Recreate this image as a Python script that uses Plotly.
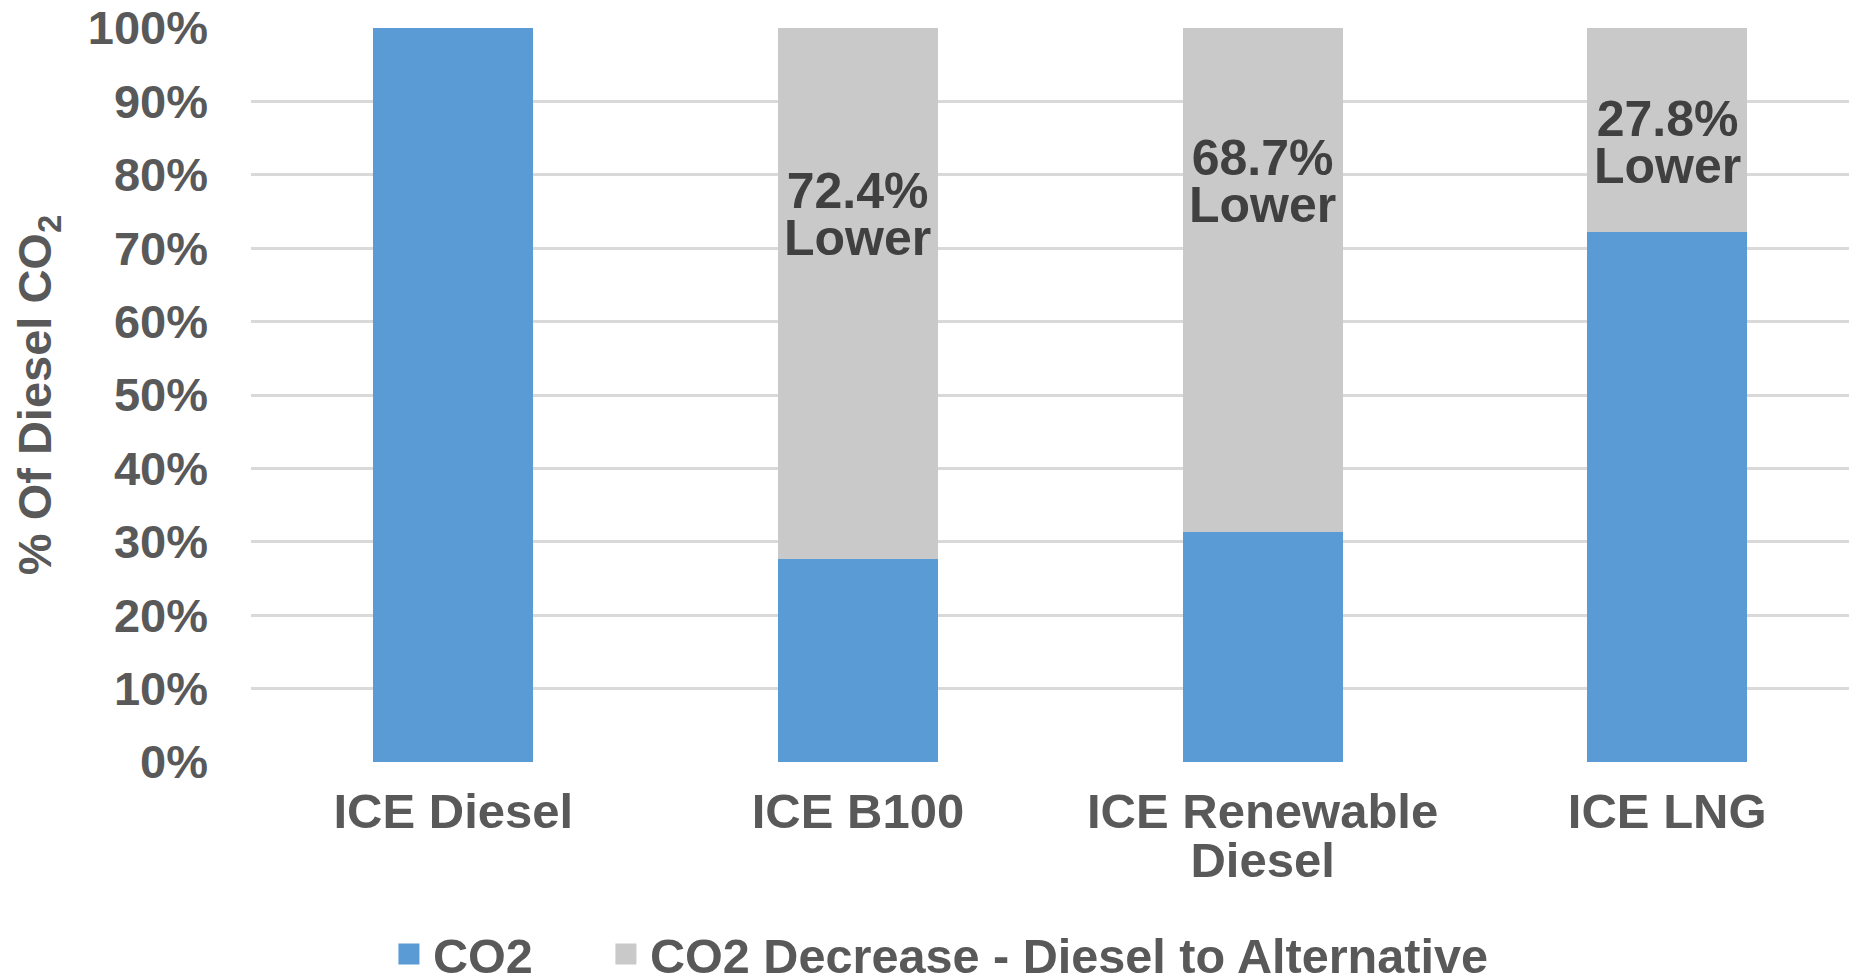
import plotly.graph_objects as go

# ---- data ----
categories = ["ICE Diesel", "ICE B100", "ICE Renewable\nDiesel", "ICE LNG"]
co2_share = [100.0, 27.6, 31.3, 72.2]          # % of diesel CO2
co2_decrease = [0.0, 72.4, 68.7, 27.8]          # % lower than diesel
series_names = ["CO2", "CO2 Decrease - Diesel to Alternative"]
y_ticks = [0, 10, 20, 30, 40, 50, 60, 70, 80, 90, 100]

# ---- styles / layout constants ----
BLUE = "#5B9BD5"
GRAY = "#C9C9C9"
GRID = "#D9D9D9"
TXT = "#595959"
LBL = "#404040"
FONT = "Liberation Sans, Arial, sans-serif"
# page body has an 8px default margin; size the figure to fill the window
W, H = 1849, 969
label_mid_pos = [None, 74.65, 79.1, 84.4]


def big_lines(text, px):
    """wrap each line in a span so glyphs are large while line spacing stays tight"""
    return "<br>".join(f"<span style='font-size:{px}px'>{ln}</span>" for ln in text.split("\n"))


fig = go.Figure()
fig.add_trace(go.Bar(x=categories, y=co2_share, name=series_names[0],
                     marker=dict(color=BLUE, line=dict(width=0)),
                     width=0.395, showlegend=False))
fig.add_trace(go.Bar(x=categories, y=co2_decrease, name=series_names[1],
                     marker=dict(color=GRAY, line=dict(width=0)),
                     width=0.395, showlegend=False))
# legend entries with larger square symbols, each in its own legend for spacing
for nm, col, lg in zip(series_names, [BLUE, GRAY], ["legend", "legend2"]):
    fig.add_trace(go.Scatter(x=[None], y=[None], mode="markers", name=nm, legend=lg,
                             marker=dict(symbol="square", size=16, color=col,
                                         line=dict(color=col, width=5))))

annotations = []
for cat, dec, ym in zip(categories, co2_decrease, label_mid_pos):
    if dec <= 0:
        continue
    annotations.append(dict(x=cat, y=ym, xref="x", yref="y",
                            text=big_lines(f"{dec:.1f}%\nLower", 50),
                            showarrow=False,
                            font=dict(family=FONT, size=36, color=LBL, weight="bold")))

legend_common = dict(orientation="h", xanchor="left", y=-0.262, yanchor="middle",
                     font=dict(family=FONT, size=48.6, color=TXT, weight="bold"),
                     itemwidth=38, bgcolor="rgba(0,0,0,0)")

fig.update_layout(
    width=W, height=H,
    barmode="stack",
    bargap=0.6,
    plot_bgcolor="white", paper_bgcolor="white",
    margin=dict(l=243, r=0, t=20, b=215, pad=0, autoexpand=False),
    font=dict(family=FONT, size=46, color=TXT, weight="bold"),
    legend=dict(x=0.0834, **legend_common),
    legend2=dict(x=0.2185, **legend_common),
    annotations=annotations,
    xaxis=dict(range=[-0.5, 3.469], showgrid=False, zeroline=False, showline=False,
               ticks="", ticklabelstandoff=27, automargin=False,
               tickvals=categories, ticktext=[big_lines(c, 49) for c in categories],
               tickfont=dict(family=FONT, size=38, color=TXT, weight="bold"),
               fixedrange=True),
    yaxis=dict(range=[0, 100], tickvals=y_ticks, ticktext=[f"{v}%" for v in y_ticks],
               showgrid=True, gridcolor=GRID, gridwidth=3, zeroline=False, showline=False,
               ticks="", ticklabelstandoff=42, automargin=False, ticklabeloverflow="allow",
               tickfont=dict(family=FONT, size=47, color=TXT, weight="bold"),
               title=dict(text="% Of Diesel CO<sub>2</sub>", standoff=22,
                          font=dict(family=FONT, size=47, color=TXT, weight="bold")),
               fixedrange=True),
)

fig.write_html("out.html")
